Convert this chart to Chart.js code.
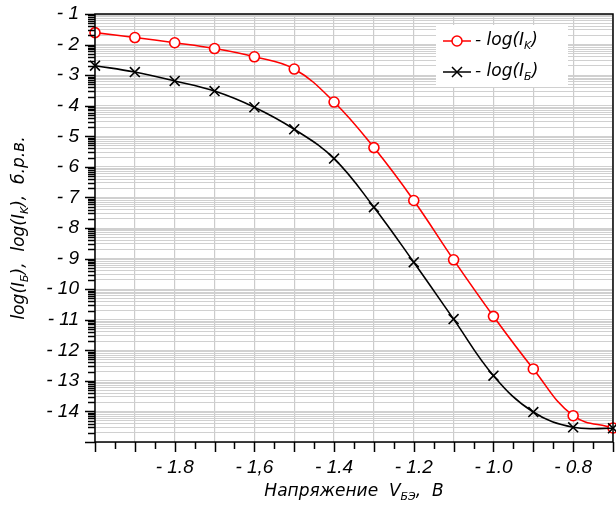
<!DOCTYPE html>
<html>
<head>
<meta charset="utf-8">
<script src="https://cdn.jsdelivr.net/npm/chart.js@4"></script>
<style>
  html, body { margin: 0; padding: 0; background: #fff; }
  #wrap { width: 616px; height: 511px; }
</style>
</head>
<body>
<div id="wrap"><canvas id="chart-vbe"></canvas></div>
<script>
// Напряжение база-эмиттер, В
const voltage = [-2.0, -1.9, -1.8, -1.7, -1.6, -1.5, -1.4, -1.3, -1.2, -1.1, -1.0, -0.9, -0.8, -0.7];
// log(Iк)
const logIk = [-1.61, -1.77, -1.94, -2.13, -2.40, -2.80, -3.88, -5.37, -7.10, -9.04, -10.89, -12.61, -14.14, -14.54];
// log(Iб)
const logIb = [-2.69, -2.90, -3.19, -3.52, -4.05, -4.77, -5.73, -7.32, -9.12, -10.98, -12.83, -14.02, -14.52, -14.55];
// подписи оси X
const xTickValues = [-1.8, -1.6, -1.4, -1.2, -1.0, -0.8];
const xTickLabels = ['- 1.8', '- 1,6', '- 1.4', '- 1.2', '- 1.0', '- 0.8'];

const TICK_FONT = '"Liberation Sans", Arial, sans-serif';
const TEXT_FONT = '"DejaVu Sans", "Liberation Sans", sans-serif';
const round = v => Math.round(v * 1000) / 1000;

// вывод текста с нижними индексами
function drawRich(ctx, parts, x, y, align) {
    const main = 'oblique 17px ' + TEXT_FONT;
    const sub = 'oblique 11px ' + TEXT_FONT;
    let total = 0;
    parts.forEach(p => { ctx.font = p.sub ? sub : main; total += ctx.measureText(p.t).width; });
    let cx = align === 'center' ? x - total / 2 : x;
    ctx.textAlign = 'left';
    ctx.textBaseline = 'middle';
    parts.forEach(p => {
        ctx.font = p.sub ? sub : main;
        ctx.fillText(p.t, cx, p.sub ? y + 5 : y);
        cx += ctx.measureText(p.t).width;
    });
}

const decorPlugin = {
    id: 'decor',
    afterDraw(chart) {
        const { ctx, chartArea: a, scales } = chart;
        ctx.save();
        ctx.strokeStyle = '#000';
        ctx.lineWidth = 1.5;
        // рамка
        ctx.strokeRect(a.left, a.top, a.right - a.left, a.bottom - a.top);
        // засечки оси Y
        scales.y.ticks.forEach(t => {
            const py = Math.round(scales.y.getPixelForValue(t.value)) + 0.5;
            const len = Number.isInteger(round(t.value)) ? 10 : 7;
            ctx.beginPath();
            ctx.moveTo(a.left - len, py);
            ctx.lineTo(a.left, py);
            ctx.stroke();
        });
        // засечки оси X
        scales.x.ticks.forEach(t => {
            const px = Math.round(scales.x.getPixelForValue(t.value)) + 0.5;
            const len = Number.isInteger(round(t.value * 10)) ? 10 : 7;
            ctx.beginPath();
            ctx.moveTo(px, a.bottom);
            ctx.lineTo(px, a.bottom + len);
            ctx.stroke();
        });

        ctx.fillStyle = '#000';
        // подпись оси X
        drawRich(ctx, [{ t: 'Напряжение  V' }, { t: 'БЭ', sub: true }, { t: ',  B' }],
            (a.left + a.right) / 2, 492, 'center');
        // подпись оси Y
        ctx.save();
        ctx.translate(20, (a.top + a.bottom) / 2);
        ctx.rotate(-Math.PI / 2);
        drawRich(ctx, [{ t: 'log(I' }, { t: 'Б', sub: true }, { t: '),  log(I' }, { t: 'K', sub: true }, { t: '),  б.р.в.' }],
            0, 0, 'center');
        ctx.restore();

        // легенда
        ctx.fillStyle = '#fff';
        ctx.fillRect(436, 25, 132, 62);
        const items = [
            { y: 41, color: '#ff0000', style: 'circle', label: [{ t: '- log(I' }, { t: 'K', sub: true }, { t: ')' }] },
            { y: 72, color: '#000000', style: 'cross', label: [{ t: '- log(I' }, { t: 'Б', sub: true }, { t: ')' }] }
        ];
        items.forEach(it => {
            ctx.strokeStyle = it.color;
            ctx.lineWidth = 1.5;
            ctx.beginPath();
            ctx.moveTo(443, it.y);
            ctx.lineTo(471, it.y);
            ctx.stroke();
            if (it.style === 'circle') {
                ctx.fillStyle = '#fff';
                ctx.beginPath();
                ctx.arc(457, it.y, 5, 0, Math.PI * 2);
                ctx.fill();
                ctx.stroke();
            } else {
                ctx.beginPath();
                ctx.moveTo(452, it.y - 5); ctx.lineTo(462, it.y + 5);
                ctx.moveTo(462, it.y - 5); ctx.lineTo(452, it.y + 5);
                ctx.stroke();
            }
            ctx.fillStyle = '#000';
            drawRich(ctx, it.label, 475, it.y, 'left');
        });
        ctx.restore();
    }
};

new Chart(document.getElementById('chart-vbe'), {
    type: 'line',
    data: {
        datasets: [{
            label: 'log(Iб)',
            data: voltage.map((v, i) => ({ x: v, y: logIb[i] })),
            borderColor: '#000',
            borderWidth: 1.6,
            pointStyle: 'crossRot',
            pointRadius: 7,
            pointBorderColor: '#000',
            pointBorderWidth: 1.6,
            tension: 0.4,
            clip: false,
        }, {
            label: 'log(Iк)',
            data: voltage.map((v, i) => ({ x: v, y: logIk[i] })),
            borderColor: '#ff0000',
            borderWidth: 1.6,
            pointStyle: 'circle',
            pointRadius: 5,
            pointBackgroundColor: '#fff',
            pointBorderColor: '#ff0000',
            pointBorderWidth: 1.6,
            tension: 0.4,
            clip: false,
        }],
    },
    options: {
        responsive: true,
        maintainAspectRatio: false,
        animation: false,
        layout: { autoPadding: false, padding: { top: 14, right: 3, left: 0, bottom: 0 } },
        plugins: { legend: { display: false }, tooltip: { enabled: false } },
        scales: {
            x: {
                type: 'linear',
                min: -2.0,
                max: -0.7,
                afterBuildTicks(scale) {
                    const t = [];
                    for (let i = 0; i <= 26; i++) t.push({ value: round(-2.0 + i * 0.05) });
                    scale.ticks = t;
                },
                afterFit(scale) {
                    scale.height = 69;
                    scale.paddingLeft = 0;
                    scale.paddingRight = 0;
                },
                grid: {
                    drawTicks: false,
                    color: c => (c.tick && Number.isInteger(round(c.tick.value * 10))) ? '#cccccc' : 'rgba(0,0,0,0)',
                    lineWidth: 1.2,
                },
                border: { display: false },
                ticks: {
                    autoSkip: false,
                    maxRotation: 0,
                    padding: 14,
                    color: '#000',
                    font: { family: TICK_FONT, size: 19, style: 'italic' },
                    callback(value) {
                        const k = xTickValues.findIndex(v => Math.abs(v - value) < 1e-6);
                        return k >= 0 ? xTickLabels[k] : '';
                    },
                },
            },
            y: {
                type: 'linear',
                min: -15,
                max: -1,
                afterBuildTicks(scale) {
                    const t = [];
                    for (let n = -15; n <= -1; n++) {
                        t.push({ value: n });
                        if (n < -1) {
                            for (let k = 2; k <= 9; k++) t.push({ value: round(n + Math.log10(k)) });
                        }
                    }
                    scale.ticks = t;
                },
                afterFit(scale) {
                    scale.width = 95;
                    scale.paddingTop = 0;
                    scale.paddingBottom = 0;
                },
                grid: {
                    drawTicks: false,
                    color: '#d0d0d0',
                    lineWidth: 1,
                },
                border: { display: false },
                ticks: {
                    autoSkip: false,
                    padding: 16,
                    color: '#000',
                    font: { family: TICK_FONT, size: 19, style: 'italic' },
                    callback(value) {
                        const v = round(value);
                        if (!Number.isInteger(v) || v === -15) return '';
                        return '- ' + Math.abs(v);
                    },
                },
            },
        },
    },
    plugins: [decorPlugin],
});
</script>
</body>
</html>
